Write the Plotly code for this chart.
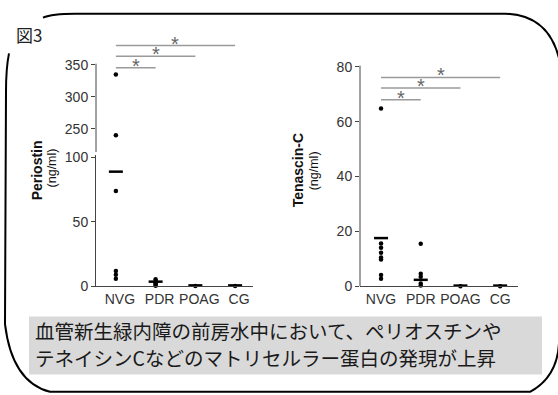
import plotly.graph_objects as go

W, H = 558, 395


def px(x):
    return x / W


def py(y):
    return 1 - y / H


# ---------------- data ----------------
categories = ["NVG", "PDR", "POAG", "CG"]

periostin_points = [
    [335, 240, 74, 12, 9, 6],       # NVG
    [0.5, 1.5, 2.5, 4, 5.5],        # PDR
    [0.3],                          # POAG
    [0.3],                          # CG
]
periostin_median = [89, 3.7, 0.8, 0.8]

tenascin_points = [
    [64.8, 15.6, 14.1, 12.3, 10.5, 9.8, 4.2, 2.8],  # NVG
    [15.5, 4.6, 3.5, 1.1, 0.3],                     # PDR
    [0.1],                                          # POAG
    [0.1],                                          # CG
]
tenascin_median = [17.6, 2.4, 0.3, 0.3]

# significance brackets: (from category, to category, height)
sig_periostin = [(0, 1, 345.5), (0, 2, 363.6), (0, 3, 380.3)]
sig_tenascin = [(0, 1, 68.0), (0, 2, 72.2), (0, 3, 76.1)]

periostin_ticks_low = [0, 50, 100]
periostin_ticks_high = [250, 300, 350]
tenascin_ticks = [0, 20, 40, 60, 80]
break_value = 150

caption_lines = [
    "血管新生緑内障の前房水中において、ペリオスチンや",
    "テネイシンCなどのマトリセルラー蛋白の発現が上昇",
]

# ---------------- figure ----------------
fig = go.Figure()

DOT = dict(symbol="circle", size=4.5, color="black")
MED = dict(symbol="line-ew", size=10, line=dict(width=2.5, color="black"))

# Periostin panel
for i, vals in enumerate(periostin_points):
    low = [v for v in vals if v < break_value]
    high = [v for v in vals if v >= break_value]
    if low:
        fig.add_trace(go.Scatter(x=[i] * len(low), y=low, mode="markers",
                                 marker=DOT, xaxis="x", yaxis="y", cliponaxis=False))
    if high:
        fig.add_trace(go.Scatter(x=[i] * len(high), y=high, mode="markers",
                                 marker=DOT, xaxis="x", yaxis="y2", cliponaxis=False))
fig.add_trace(go.Scatter(x=list(range(len(categories))), y=periostin_median, mode="markers",
                         marker=MED, xaxis="x", yaxis="y", cliponaxis=False))

# Tenascin panel
for i, vals in enumerate(tenascin_points):
    fig.add_trace(go.Scatter(x=[i] * len(vals), y=vals, mode="markers",
                             marker=DOT, xaxis="x2", yaxis="y3", cliponaxis=False))
fig.add_trace(go.Scatter(x=list(range(len(categories))), y=tenascin_median, mode="markers",
                         marker=MED, xaxis="x2", yaxis="y3", cliponaxis=False))

annotations = []
STAR_FONT = dict(family="Liberation Sans, Arial", size=20, color="#666")

for a, b, h in sig_periostin:
    fig.add_trace(go.Scatter(x=[a, b], y=[h, h], mode="lines",
                             line=dict(color="#9a9a9a", width=1.5), xaxis="x", yaxis="y2"))
    annotations.append(dict(x=(a + b) / 2, y=h, xref="x", yref="y2", text="*",
                            showarrow=False, xanchor="center", yanchor="middle", yshift=2,
                            font=STAR_FONT))
for a, b, h in sig_tenascin:
    fig.add_trace(go.Scatter(x=[a, b], y=[h, h], mode="lines",
                             line=dict(color="#9a9a9a", width=1.5), xaxis="x2", yaxis="y3"))
    annotations.append(dict(x=(a + b) / 2, y=h, xref="x2", yref="y3", text="*",
                            showarrow=False, xanchor="center", yanchor="middle", yshift=2,
                            font=STAR_FONT))

# axis titles
TITLE_B = dict(family="Liberation Sans, Arial", size=14, color="#111")
TITLE_R = dict(family="Liberation Sans, Arial", size=12.5, color="#111")
annotations += [
    dict(x=px(37), y=py(171), xref="paper", yref="paper", text="<b>Periostin</b>",
         textangle=-90, showarrow=False, xanchor="center", yanchor="middle", font=TITLE_B),
    dict(x=px(52), y=py(169), xref="paper", yref="paper", text="(ng/ml)",
         textangle=-90, showarrow=False, xanchor="center", yanchor="middle", font=TITLE_R),
    dict(x=px(298), y=py(171), xref="paper", yref="paper", text="<b>Tenascin-C</b>",
         textangle=-90, showarrow=False, xanchor="center", yanchor="middle", font=TITLE_B),
    dict(x=px(314), y=py(172), xref="paper", yref="paper", text="(ng/ml)",
         textangle=-90, showarrow=False, xanchor="center", yanchor="middle", font=TITLE_R),
    dict(x=px(14), y=py(31), xref="paper", yref="paper", text="図3", xanchor="left",
         yanchor="middle", showarrow=False,
         font=dict(family="Noto Sans CJK JP", size=17, color="#222")),
]
for k, line in enumerate(caption_lines):
    annotations.append(dict(x=px(34), y=py(337 + 28 * k), xref="paper", yref="paper",
                            text=line, xanchor="left", yanchor="middle", showarrow=False,
                            borderpad=0,
                            font=dict(family="Noto Sans CJK JP", size=19.5, color="#1a1a1a")))

# frame path (pixel coords -> paper)
frame_pts = [
    ("M", (43, 13)), ("Q", (52, 9), (75, 9)), ("L", (505, 9)),
    ("Q", (548, 10), (559, 55)), ("L", (559, 350)), ("Q", (557, 385), (530, 400)),
    ("L", (50, 400)), ("Q", (12, 390), (5, 330)), ("L", (6, 90)), ("Q", (6, 65), (9, 50)),
]
path = ""
for cmd, *pts in frame_pts:
    path += cmd + " " + " ".join(f"{px(x):.5f},{py(y):.5f}" for x, y in pts) + " "

AX = "#444"
shapes = [
    dict(type="rect", xref="paper", yref="paper", x0=px(29), x1=px(542), y0=py(382), y1=py(322),
         fillcolor="#d9d9d9", line=dict(width=0), layer="below"),
    dict(type="path", xref="paper", yref="paper", path=path.strip(),
         line=dict(color="black", width=2)),
    dict(type="line", xref="x domain", yref="y2", x0=0, x1=0, y0=213.6, y1=352,
         line=dict(color=AX, width=1)),
    dict(type="line", xref="x2 domain", yref="y3", x0=0, x1=0, y0=0, y1=80.4,
         line=dict(color=AX, width=1)),
]

TICKFONT = dict(family="Liberation Sans, Arial", size=14, color="#333")
common_x = dict(showgrid=False, zeroline=False, showline=True, linecolor=AX, linewidth=1,
                ticks="", tickfont=TICKFONT, ticktext=categories)
common_y = dict(showgrid=False, zeroline=False, ticks="outside", ticklen=4, tickcolor=AX,
                tickwidth=1, tickfont=TICKFONT)

fig.update_layout(
    width=W, height=H, autosize=False,
    margin=dict(l=0, r=0, t=0, b=0),
    paper_bgcolor="white", plot_bgcolor="rgba(0,0,0,0)",
    showlegend=False,
    xaxis=dict(domain=[px(96), px(253)], range=[-0.5, 3.45], anchor="y",
               tickvals=[i + 0.1 for i in range(len(categories))], **common_x),
    yaxis=dict(domain=[py(291), py(155)], range=[0, 102], anchor="x",
               tickvals=periostin_ticks_low, showline=True, linecolor=AX, linewidth=1, **common_y),
    yaxis2=dict(domain=[py(152), py(35)], range=[213.6, 390.9], anchor="x",
                tickvals=periostin_ticks_high, showline=False, **common_y),
    xaxis2=dict(domain=[px(360), px(518)], range=[-0.53, 3.45], anchor="y3",
                tickvals=[i for i in range(len(categories))], **common_x),
    yaxis3=dict(domain=[py(291), py(30)], range=[0, 91.9], anchor="x2",
                tickvals=tenascin_ticks, showline=False, **common_y),
    annotations=annotations,
    shapes=shapes,
)

fig.write_html("out.html", config={"displayModeBar": False},
               post_script="document.body.style.margin='0';document.body.style.overflow='hidden';")
